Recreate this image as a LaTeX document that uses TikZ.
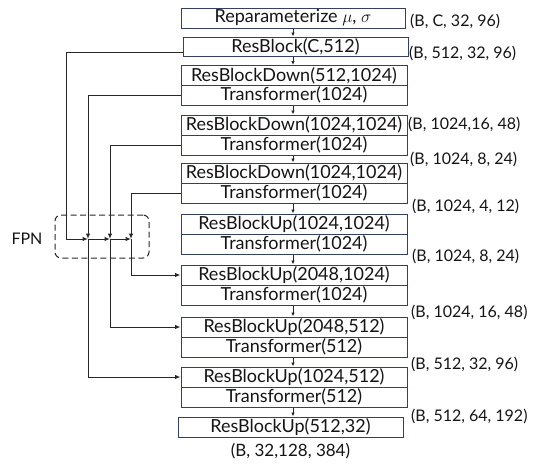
\documentclass[tikz,border=0pt]{standalone}
\usepackage{fontspec}
\setmainfont{Lato}
\usetikzlibrary{arrows.meta,calc}
\definecolor{boxc}{RGB}{52,64,98}
\definecolor{linec}{RGB}{40,40,40}
\definecolor{txtc}{RGB}{20,20,20}
\begin{document}
\begin{tikzpicture}[x=1pt,y=-1pt,
  blk/.style={draw=boxc, line width=1pt, minimum width=226pt, minimum height=20pt, inner sep=0pt, text=txtc, font=\fontsize{18}{20}\selectfont},
  dimlbl/.style={anchor=west, inner sep=0pt, text=txtc, font=\fontsize{16}{18}\selectfont},
  conn/.style={draw=linec, line width=1pt},
  arr/.style={conn, -{Latex[length=5.5pt,width=4.5pt]}},
  sarr/.style={conn, -{Latex[length=4pt,width=3.5pt]}}
]
\useasboundingbox (0,0) rectangle (533,466);
% boxes
\node[blk, minimum width=224pt] (r1) at (293,18) {Reparameterize $\mu$, $\sigma$};
\node[blk, minimum width=225pt, minimum height=19pt] (r2) at (295.5,46.5) {ResBlock(C,512)};
\node[blk] (b3a) at (294,75.5) {ResBlockDown(512,1024)};
\node[blk] (b3b) at (294,95) {Transformer(1024)};
\node[blk] (b4a) at (294,125) {ResBlockDown(1024,1024)};
\node[blk] (b4b) at (294,145) {Transformer(1024)};
\node[blk] (b5a) at (294,173) {ResBlockDown(1024,1024)};
\node[blk] (b5b) at (294,193) {Transformer(1024)};
\node[blk] (b6a) at (294,224) {ResBlockUp(1024,1024)};
\node[blk] (b6b) at (294,244) {Transformer(1024)};
\node[blk] (b7a) at (294,275) {ResBlockUp(2048,1024)};
\node[blk] (b7b) at (294,295) {Transformer(1024)};
\node[blk] (b8a) at (294,327) {ResBlockUp(2048,512)};
\node[blk] (b8b) at (294,347) {Transformer(512)};
\node[blk] (b9a) at (294,377) {ResBlockUp(1024,512)};
\node[blk] (b9b) at (294,397) {Transformer(512)};
\node[blk, minimum width=225pt] (b10) at (290.5,427) {ResBlockUp(512,32)};
% dimension labels
\node[dimlbl] (d1) at (410,21) {(B, C, 32, 96)};
\node[dimlbl] (d2) at (409,53) {(B, 512, 32, 96)};
\node[dimlbl] (d3) at (408,124) {(B, 1024,16, 48)};
\node[dimlbl] (d4) at (410,159) {(B, 1024, 8, 24)};
\node[dimlbl] (d5) at (412,206) {(B, 1024, 4, 12)};
\node[dimlbl] (d6) at (412,256) {(B, 1024, 8, 24)};
\node[dimlbl] (d7) at (411,312) {(B, 1024, 16, 48)};
\node[dimlbl] (d8) at (411,364) {(B, 512, 32, 96)};
\node[dimlbl] (d9) at (411,416) {(B, 512, 64, 192)};
\node[inner sep=0pt, text=txtc, font=\fontsize{17}{19}\selectfont] (dout) at (290.5,451) {(B, 32,128, 384)};
% vertical flow arrows
\foreach \a/\b in {r1/r2, r2/b3a, b3b/b4a, b4b/b5a, b5b/b6a, b6b/b7a, b7b/b8a, b8b/b9a, b9b/b10}
  \draw[sarr] (\a.south -| 293,0) -- (\b.north -| 293,0);
% FPN
\node[draw=linec, dashed, dash pattern=on 6pt off 3.5pt, line width=1pt, rounded corners=6pt, minimum width=94pt, minimum height=43pt, inner sep=0pt] (fpn) at (102,236.5) {};
\node[inner sep=0pt, text=txtc, font=\fontsize{16}{18}\selectfont] (fpnl) at (27,239) {FPN};
\coordinate (j1) at (66,239);
\coordinate (j2) at (88,239);
\coordinate (j3) at (110,239);
\coordinate (j4) at (131,239);
\coordinate (s2) at ($(r2.west)+(0,5.5)$);
\draw[conn] (s2) -| (j1);
\draw[arr] (j1) -- (j2);
\draw[arr] (b3b.west) -| (j2);
\draw[arr] (j2) -- (j3);
\draw[arr] (b4b.west) -| (j3);
\draw[arr] (j3) -- (j4);
\draw[arr] (b5b.west) -| (j4);
\draw[arr] (j4) |- (b7a.west);
\draw[arr] (j3) |- (b8a.west);
\draw[arr] (j2) |- (b9a.west);
\end{tikzpicture}
\end{document}
